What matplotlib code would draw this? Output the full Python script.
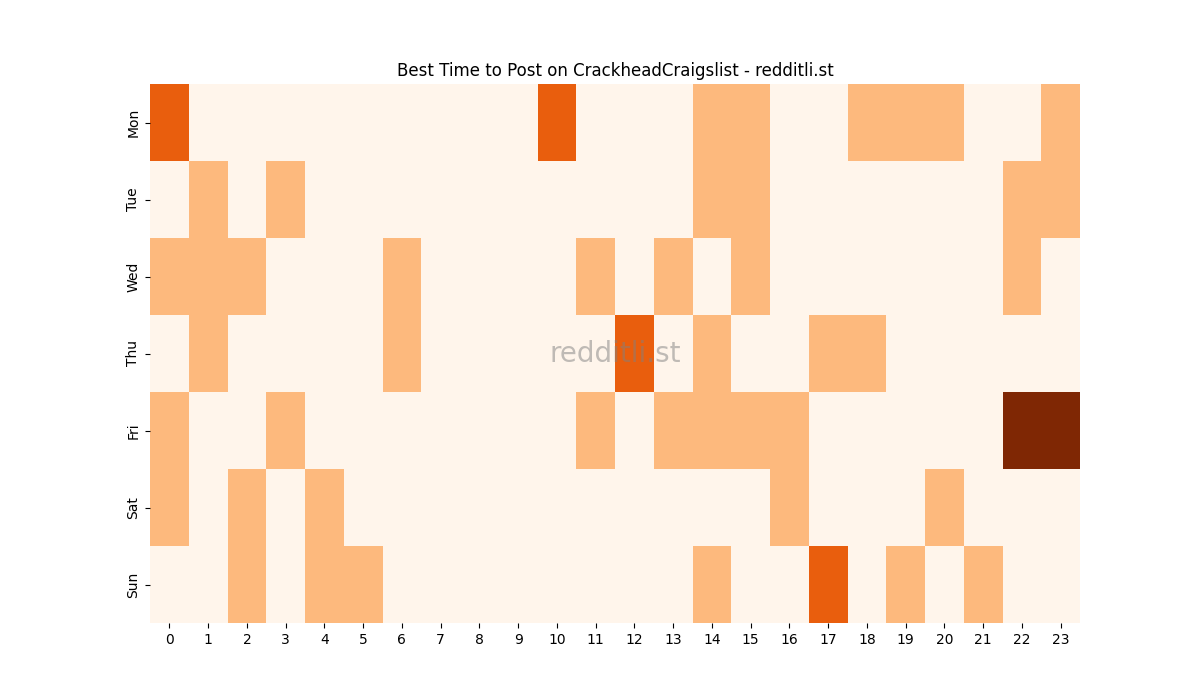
import numpy as np
import matplotlib
matplotlib.use("Agg")
import matplotlib.pyplot as plt
import seaborn as sns

days = ["Mon", "Tue", "Wed", "Thu", "Fri", "Sat", "Sun"]
hours = list(range(24))

# post counts per (day, hour)
mon = [2, 0, 0, 0, 0, 0, 0, 0, 0, 0, 2, 0, 0, 0, 1, 1, 0, 0, 1, 1, 1, 0, 0, 1]
tue = [0, 1, 0, 1, 0, 0, 0, 0, 0, 0, 0, 0, 0, 0, 1, 1, 0, 0, 0, 0, 0, 0, 1, 1]
wed = [1, 1, 1, 0, 0, 0, 1, 0, 0, 0, 0, 1, 0, 1, 0, 1, 0, 0, 0, 0, 0, 0, 1, 0]
thu = [0, 1, 0, 0, 0, 0, 1, 0, 0, 0, 0, 0, 2, 0, 1, 0, 0, 1, 1, 0, 0, 0, 0, 0]
fri = [1, 0, 0, 1, 0, 0, 0, 0, 0, 0, 0, 1, 0, 1, 1, 1, 1, 0, 0, 0, 0, 0, 3, 3]
sat = [1, 0, 1, 0, 1, 0, 0, 0, 0, 0, 0, 0, 0, 0, 0, 0, 1, 0, 0, 0, 1, 0, 0, 0]
sun = [0, 0, 1, 0, 1, 1, 0, 0, 0, 0, 0, 0, 0, 0, 1, 0, 0, 2, 0, 1, 0, 1, 0, 0]

grid = np.array([mon, tue, wed, thu, fri, sat, sun])

fig, ax = plt.subplots(figsize=(12, 7), dpi=100)
sns.heatmap(grid, cmap="Oranges", cbar=False, xticklabels=hours,
            yticklabels=days, ax=ax)
ax.set_title("Best Time to Post on CrackheadCraigslist - redditli.st")
ax.text(0.5, 0.5, "redditli.st", transform=ax.transAxes, fontsize=20,
        color="gray", alpha=0.5, ha="center", va="center")

plt.savefig("out.png")
